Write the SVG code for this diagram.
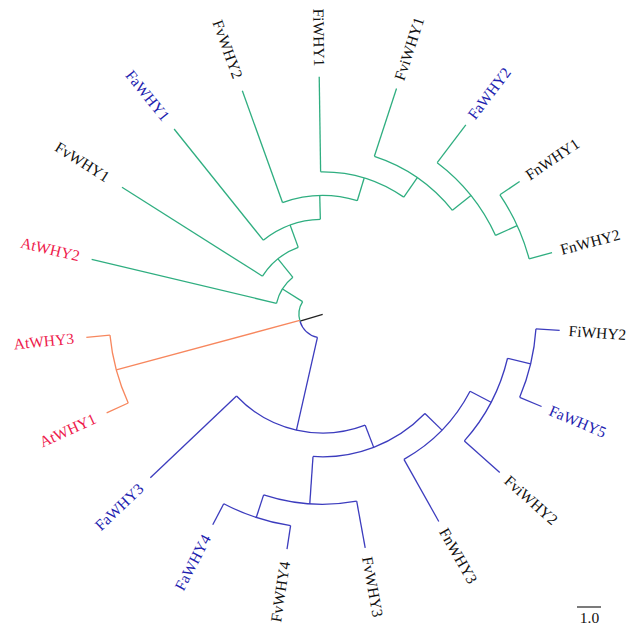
<svg xmlns="http://www.w3.org/2000/svg" width="628" height="629" viewBox="0 0 628 629">
<style>
.e{fill:none;stroke-width:1.3;stroke-linecap:butt}
.g{stroke:#2fae80}
.o{stroke:#f7875e}
.b{stroke:#3c3cbe}
.k{stroke:#222222}
.t{font-family:"Liberation Serif","Times New Roman",serif;font-size:15.5px}
.tk{fill:#111111}
.tb{fill:#1e1eb0}
.tr{fill:#ee1a4c}
.L{text-anchor:end}
</style>
<rect width="628" height="629" fill="#ffffff"/>
<g transform="translate(322.7,314.3)">
<g id="connectors">
<!-- root -->
<line class="e k" x1="0" x2="23.75" transform="rotate(163)"/>
<circle class="e b" r="23.75" pathLength="360" stroke-dasharray="60.22 360" transform="rotate(102.78)"/>
<circle class="e g" r="23.75" pathLength="360" stroke-dasharray="49.25 360" transform="rotate(163)"/>
<!-- green clade -->
<line class="e g" x1="23.75" x2="47.5" transform="rotate(212.25)"/>
<circle class="e g" r="47.5" pathLength="360" stroke-dasharray="37.75 360" transform="rotate(193.37)"/>
<line class="e g" x1="47.5" x2="237.5" transform="rotate(193.37)"/>
<line class="e g" x1="47.5" x2="71.25" transform="rotate(231.12)"/>
<circle class="e g" r="71.25" pathLength="360" stroke-dasharray="37.6 360" transform="rotate(212.32)"/>
<line class="e g" x1="71.25" x2="237.5" transform="rotate(212.32)"/>
<line class="e g" x1="71.25" x2="95" transform="rotate(249.92)"/>
<circle class="e g" r="95" pathLength="360" stroke-dasharray="37.3 360" transform="rotate(231.27)"/>
<line class="e g" x1="95" x2="237.5" transform="rotate(231.27)"/>
<line class="e g" x1="95" x2="118.75" transform="rotate(268.57)"/>
<circle class="e g" r="118.75" pathLength="360" stroke-dasharray="36.71 360" transform="rotate(250.22)"/>
<line class="e g" x1="118.75" x2="237.5" transform="rotate(250.22)"/>
<line class="e g" x1="118.75" x2="142.5" transform="rotate(286.93)"/>
<circle class="e g" r="142.5" pathLength="360" stroke-dasharray="35.53 360" transform="rotate(269.16)"/>
<line class="e g" x1="142.5" x2="237.5" transform="rotate(269.16)"/>
<line class="e g" x1="142.5" x2="166.25" transform="rotate(304.69)"/>
<circle class="e g" r="166.25" pathLength="360" stroke-dasharray="33.16 360" transform="rotate(288.11)"/>
<line class="e g" x1="166.25" x2="237.5" transform="rotate(288.11)"/>
<line class="e g" x1="166.25" x2="190" transform="rotate(321.27)"/>
<circle class="e g" r="190" pathLength="360" stroke-dasharray="28.42 360" transform="rotate(307.06)"/>
<line class="e g" x1="190" x2="237.5" transform="rotate(307.06)"/>
<line class="e g" x1="190" x2="213.75" transform="rotate(335.48)"/>
<circle class="e g" r="213.75" pathLength="360" stroke-dasharray="18.94 360" transform="rotate(326.01)"/>
<line class="e g" x1="213.75" x2="237.5" transform="rotate(326.01)"/>
<line class="e g" x1="213.75" x2="237.5" transform="rotate(344.95)"/>
<!-- orange clade -->
<line class="e o" x1="23.75" x2="213.75" transform="rotate(164.96)"/>
<circle class="e o" r="213.75" pathLength="360" stroke-dasharray="18.95 360" transform="rotate(155.48)"/>
<line class="e o" x1="213.75" x2="237.5" transform="rotate(155.48)"/>
<line class="e o" x1="213.75" x2="237.5" transform="rotate(174.43)"/>
<!-- blue clade -->
<line class="e b" x1="23.75" x2="118.75" transform="rotate(102.78)"/>
<circle class="e b" r="118.75" pathLength="360" stroke-dasharray="67.5 360" transform="rotate(69.03)"/>
<line class="e b" x1="118.75" x2="237.5" transform="rotate(136.53)"/>
<line class="e b" x1="118.75" x2="142.5" transform="rotate(69.03)"/>
<circle class="e b" r="142.5" pathLength="360" stroke-dasharray="49.74 360" transform="rotate(44.16)"/>
<line class="e b" x1="142.5" x2="190" transform="rotate(93.9)"/>
<circle class="e b" r="190" pathLength="360" stroke-dasharray="28.42 360" transform="rotate(79.69)"/>
<line class="e b" x1="190" x2="237.5" transform="rotate(79.69)"/>
<line class="e b" x1="190" x2="213.75" transform="rotate(108.11)"/>
<circle class="e b" r="213.75" pathLength="360" stroke-dasharray="18.94 360" transform="rotate(98.64)"/>
<line class="e b" x1="213.75" x2="237.5" transform="rotate(98.64)"/>
<line class="e b" x1="213.75" x2="237.5" transform="rotate(117.58)"/>
<line class="e b" x1="142.5" x2="166.25" transform="rotate(44.16)"/>
<circle class="e b" r="166.25" pathLength="360" stroke-dasharray="33.16 360" transform="rotate(27.58)"/>
<line class="e b" x1="166.25" x2="237.5" transform="rotate(60.74)"/>
<line class="e b" x1="166.25" x2="190" transform="rotate(27.58)"/>
<circle class="e b" r="190" pathLength="360" stroke-dasharray="28.41 360" transform="rotate(13.38)"/>
<line class="e b" x1="190" x2="237.5" transform="rotate(41.79)"/>
<line class="e b" x1="190" x2="213.75" transform="rotate(13.38)"/>
<circle class="e b" r="213.75" pathLength="360" stroke-dasharray="18.95 360" transform="rotate(3.9)"/>
<line class="e b" x1="213.75" x2="237.5" transform="rotate(3.9)"/>
<line class="e b" x1="213.75" x2="237.5" transform="rotate(22.85)"/>
</g>
<!-- leaf labels -->
<g id="FiWHY2"><text class="t tk" transform="rotate(3.9) translate(246.5,5)">FiWHY2</text></g>
<g id="FaWHY5"><text class="t tb" transform="rotate(22.85) translate(246.5,5)">FaWHY5</text></g>
<g id="FviWHY2"><text class="t tk" transform="rotate(41.79) translate(246.5,5)">FviWHY2</text></g>
<g id="FnWHY3"><text class="t tk" transform="rotate(60.74) translate(246.5,5)">FnWHY3</text></g>
<g id="FvWHY3"><text class="t tk" transform="rotate(79.69) translate(246.5,5)">FvWHY3</text></g>
<g id="FvWHY4"><text class="t tk L" transform="rotate(-81.36) translate(-250,5)">FvWHY4</text></g>
<g id="FaWHY4"><text class="t tb L" transform="rotate(-62.42) translate(-250,5)">FaWHY4</text></g>
<g id="FaWHY3"><text class="t tb L" transform="rotate(-43.47) translate(-250,5)">FaWHY3</text></g>
<g id="AtWHY1"><text class="t tr L" transform="rotate(-24.52) translate(-250,5)">AtWHY1</text></g>
<g id="AtWHY3"><text class="t tr L" transform="rotate(-5.57) translate(-250,5)">AtWHY3</text></g>
<g id="AtWHY2"><text class="t tr L" transform="rotate(13.37) translate(-250,5)">AtWHY2</text></g>
<g id="FvWHY1"><text class="t tk L" transform="rotate(32.32) translate(-254,5)">FvWHY1</text></g>
<g id="FaWHY1"><text class="t tb L" transform="rotate(51.27) translate(-250,5)">FaWHY1</text></g>
<g id="FvWHY2"><text class="t tk L" transform="rotate(70.22) translate(-251,5)">FvWHY2</text></g>
<g id="FiWHY1"><text class="t tk L" transform="rotate(89.16) translate(-248,5)">FiWHY1</text></g>
<g id="FviWHY1"><text class="t tk" transform="rotate(-71.89) translate(246.5,5)">FviWHY1</text></g>
<g id="FaWHY2"><text class="t tb" transform="rotate(-52.94) translate(246.5,5)">FaWHY2</text></g>
<g id="FnWHY1"><text class="t tk" transform="rotate(-33.99) translate(246.5,5)">FnWHY1</text></g>
<g id="FnWHY2"><text class="t tk" transform="rotate(-15.05) translate(246.5,5)">FnWHY2</text></g>
</g>
<g id="scale">
<line x1="577" y1="607" x2="601" y2="607" stroke="#222222" stroke-width="1.2"/>
<text class="t tk" x="589.5" y="622.5" text-anchor="middle">1.0</text>
</g>
</svg>
